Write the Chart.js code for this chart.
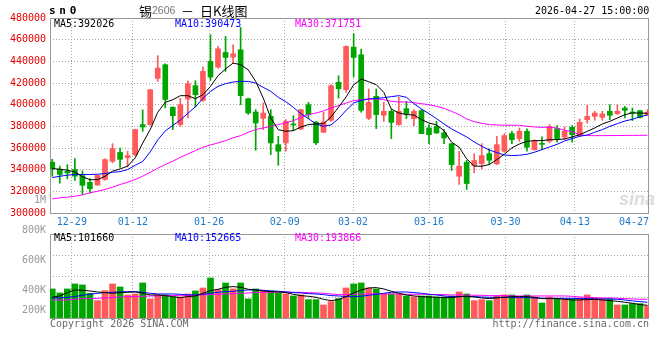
<!DOCTYPE html>
<html><head><meta charset="utf-8">
<script src="https://cdn.jsdelivr.net/npm/chart.js@4.4.1/dist/chart.umd.min.js"></script>
<style>
html,body{margin:0;padding:0;background:#fff;}
#wrap{position:relative;width:660px;height:360px;overflow:hidden;background:#fff;font-family:'DejaVu Sans Mono',monospace;}
canvas{position:absolute;left:0;}
.t{position:absolute;font-size:10px;line-height:12px;white-space:nowrap;font-family:'DejaVu Sans Mono',monospace;}
.cjk{position:absolute;font-family:'Noto Sans CJK SC',sans-serif;font-size:13px;line-height:14px;white-space:nowrap;color:#000;}
</style></head><body>
<div id="wrap">
<div class="t" style="left:619px;top:189px;font:italic bold 18px 'Liberation Sans',sans-serif;color:#dddddd;">sina</div>
<canvas id="pc" width="660" height="232" style="top:0;width:660px;height:232px"></canvas>
<canvas id="vc" width="660" height="170" style="top:190px;width:660px;height:170px"></canvas>
<div class="t" style="left:49px;top:5px;font-weight:bold;font-size:11px;letter-spacing:3.7px;color:#000">sn0</div>
<div class="cjk" style="left:139px;top:4px">锡</div>
<div class="t" style="left:152px;top:4px;font-family:'Liberation Sans',sans-serif;font-size:10.5px;color:#777">2606</div>
<div class="cjk" style="left:181px;top:4px">－</div>
<div class="cjk" style="left:200px;top:4px">日K线图</div>
<div class="t" style="left:535px;top:5px;color:#000">2026-04-27 15:00:00</div>
<div class="t" style="left:54px;top:18px;color:#000">MA5:392026</div>
<div class="t" style="left:175px;top:18px;color:#0000ff">MA10:390473</div>
<div class="t" style="left:295px;top:18px;color:#ff00ff">MA30:371751</div>
<div class="t" style="left:54px;top:232px;color:#000">MA5:101660</div>
<div class="t" style="left:175px;top:232px;color:#0000ff">MA10:152665</div>
<div class="t" style="left:295px;top:232px;color:#ff00ff">MA30:193866</div>
<div class="t" style="left:50px;top:318px;color:#6a6a6a">Copyright 2026 SINA.COM</div>
<div class="t" style="right:11px;top:318px;color:#6a6a6a">http://finance.sina.com.cn</div>
</div>
<script>
const dates = ['12-24','12-25','12-26','12-29','12-30','12-31',
 '01-05','01-06','01-07','01-08','01-09','01-12','01-13','01-14','01-15','01-16',
 '01-19','01-20','01-21','01-22','01-23','01-26','01-27','01-28','01-29','01-30',
 '02-02','02-03','02-04','02-05','02-06','02-09','02-10','02-11','02-12','02-13',
 '02-24','02-25','02-26','02-27',
 '03-02','03-03','03-04','03-05','03-06','03-09','03-10','03-11','03-12','03-13',
 '03-16','03-17','03-18','03-19','03-20','03-23','03-24','03-25','03-26','03-27','03-30','03-31',
 '04-01','04-02','04-03','04-07','04-08','04-09','04-10','04-13','04-14','04-15','04-16','04-17',
 '04-20','04-21','04-22','04-23','04-24','04-27'];

const openP = [346900,340400,338500,340100,334500,328300,325800,331000,347700,355900,
 351000,353900,381600,381600,424300,436900,397600,381600,405200,417500,
 404000,439900,434700,448200,443900,450700,405500,393200,387400,389300,
 363100,364700,382000,377600,400000,384000,374500,385600,420600,413800,
 453100,446100,387400,407700,390200,393850,381600,396300,387100,394500,
 378500,380000,373900,364000,333900,346900,343800,345600,354800,345300,
 357000,373300,368700,375400,358500,364000,366200,377900,370200,379100,
 371400,386200,389200,388300,393850,391700,396900,392900,394500,390800];
const highP = [349600,343200,344700,350200,339000,331800,335000,350000,364000,360000,
 357000,377500,395200,414200,445200,437800,398000,406000,422100,422100,
 434700,464500,453800,463000,455300,471300,406000,395400,401500,395400,
 370800,386200,389900,395700,402100,384300,392900,418400,426700,454400,
 465400,451300,414400,414400,402100,395400,406800,403100,395400,395400,
 381600,384600,377000,364000,357000,348700,354800,364000,359100,370800,
 373300,375400,378500,377600,367700,370200,381600,380600,379400,380600,
 386800,399400,393850,393850,400000,400000,398500,396900,394500,395400];
const lowP = [333900,327500,331500,330000,317000,318600,325500,330200,346300,342000,
 342500,353000,375400,381000,421500,397000,377000,380000,387700,397800,
 403000,422400,433800,430700,438400,400000,391000,357900,377000,353900,
 344100,357000,376000,377000,387100,363100,374500,384600,406100,411400,
 425500,393000,386200,377900,384600,368700,381000,387100,380600,373300,
 364000,373300,364000,339200,326300,321700,337000,340700,344700,344700,
 356100,364000,366200,357000,357900,358500,364700,365300,367700,365300,
 370800,383100,385600,385600,386200,390800,387700,385300,387700,389900];
const closeP = [340700,335500,337000,334000,325600,322400,334700,349300,359400,349500,
 353000,377000,379400,413800,433800,404800,389800,400000,419350,409200,
 430700,425500,451600,443600,447000,408300,392300,383100,392300,364700,
 357000,384600,381200,395400,390800,364700,384000,417500,414700,453800,
 443600,394800,402100,390800,393850,383700,393850,391700,393850,373300,
 372300,373900,369300,344700,343200,327200,348400,353000,348700,363100,
 371400,367700,375400,360700,366200,363400,380000,368700,375400,372300,
 383700,389200,392300,391400,390200,393850,394800,392300,388300,392900];

const ma5 = [341000,340400,339500,337900,333500,330700,330800,333900,338600,340700,
 343200,350800,364500,377000,393000,402100,404600,408300,408300,405500,
 409200,416900,426700,432900,438400,436900,432200,421500,406100,387700,
 376900,375400,376000,379400,381600,382200,382500,388600,397800,407100,
 418400,423600,421200,418400,411400,396000,392300,390800,390500,386200,
 383100,381300,376000,365300,360700,350000,343200,343200,344700,349300,
 354200,360100,363700,366200,366800,366800,367700,367700,368400,370200,
 372300,375400,378500,382200,384600,387700,390800,392300,392300,392026];
const ma10 = [332700,333900,334900,335500,335500,335500,335800,336400,337600,338200,
 340100,344000,347500,356400,367500,375800,380800,385800,392000,398000,
 405800,412300,416900,419350,420900,421500,421500,419950,415970,412300,
 406750,402760,397500,391700,387100,382200,380000,381300,387100,394800,
 401500,404000,405200,405800,406400,407400,408300,406800,400900,396000,
 391700,387100,382200,377600,373900,370200,365600,361600,358200,355800,
 353600,353000,353300,354200,356100,358500,361000,363400,366500,368700,
 370800,372000,374500,376960,380000,382500,384900,386500,388800,390473];
const ma30 = [313000,314000,314600,315500,316700,318600,320100,321700,323800,326300,
 328400,330900,334000,337600,341300,344700,347800,351500,354500,357600,
 360700,362800,364700,366800,369500,371400,374500,377000,378500,380000,
 381600,383100,385200,388300,390800,392300,394200,396900,399100,401500,
 403700,404600,405200,405200,404600,403100,402500,402500,401800,400900,
 400000,398500,396600,393850,390800,386800,384300,382800,381600,381300,
 381000,381000,381000,380000,379400,379100,379100,378500,376300,375100,
 372300,371500,371400,371400,371500,371500,371600,371600,371700,371751];

const vol = [406700,380000,406700,440000,433300,377800,328900,395600,440000,420000,
 366700,373300,446700,340000,366700,366700,353300,353300,373300,393300,
 413300,480000,402200,446700,406700,446700,340000,406700,393300,393300,
 380000,373300,360000,366700,335600,335600,300000,322200,342200,413300,
 440000,446700,413300,406700,373300,373300,373300,360000,353300,360000,
 360000,353300,353300,360000,386700,373300,328900,335600,328900,360000,
 366700,366700,353300,366700,353300,313300,353300,340000,340000,340000,
 346700,366700,346700,340000,340000,300000,300000,308900,308900,293300];
const vma5 = [351100,360000,382200,400000,397800,393300,386700,382200,377800,382200,
 384400,386700,377800,366700,366700,362200,355600,348900,355600,360000,
 377800,395600,404400,417800,422200,417800,404400,400000,393300,388900,
 386700,382200,371100,362200,357800,351100,337800,328900,335600,355600,
 380000,400000,413300,415600,406700,391100,377800,366700,360000,355600,
 353300,351100,348900,348900,355600,357800,353300,346700,342200,346700,
 351100,355600,355600,355600,351100,342200,342200,342200,337800,333300,
 333300,335600,337800,333300,328900,324400,317800,311100,302200,297800];
const vma10 = [346700,346700,351100,355600,364400,371100,377800,382200,384400,386700,
 388900,388900,384400,377800,373300,373300,373300,371100,366700,366700,
 371100,377800,384400,388900,391100,395600,400000,400000,397800,393300,
 391100,386700,382200,380000,375600,373300,368900,362200,360000,355600,
 355600,357800,364400,371100,377800,384400,386700,386700,382200,377800,
 371100,366700,360000,355600,355600,355600,355600,353300,351100,351100,
 351100,348900,348900,348900,346700,344400,344400,344400,344400,344400,
 342200,342200,340000,340000,340000,337800,333300,326700,322200,317800];
const vma30 = [333300,333300,333300,337800,342200,342200,344400,346700,348900,353300,
 355600,355600,357800,360000,360000,362200,362200,364400,364400,364400,
 366700,368900,371100,373300,375600,377800,380000,382200,384400,384400,
 386700,386700,384400,384400,382200,380000,377800,373300,368900,368900,
 371100,373300,373300,373300,373300,373300,373300,371100,371100,371100,
 371100,368900,368900,366700,366700,366700,364400,364400,362200,362200,
 362200,360000,360000,360000,360000,360000,360000,360000,360000,357800,
 353300,351100,348900,346700,346700,344400,342200,340000,337800,337800];

const tickPos = [2.6, 10.7, 20.82, 30.85, 39.92, 50.01, 60.16, 69.36, 77.2];
const tickLabels = ['12-29','01-12','01-26','02-09','03-02','03-16','03-30','04-13','04-27'];
const priceMin = 300000, priceMax = 480000, priceStep = 20000;
const volMin = 213000, volMax = 773000, volGridStep = 140000;
const volTicks = [1000000, 800000, 600000, 400000, 200000];
const volTickLabels = ['1M','800K','600K','400K','200K'];

const UP = '#ff5a5a', DOWN = '#00a500', GRID = '#a8a8a8', FRAME = '#999999';
const FONT = {family:"'DejaVu Sans Mono', monospace", size:10};
const colors = openP.map((o,i) => closeP[i] >= o ? UP : DOWN);
const pts = arr => arr.map((v,i) => ({x:i, y:v}));

const frame = {id:'frame', beforeDatasetsDraw(chart){
  const {ctx, chartArea:a} = chart;
  ctx.save(); ctx.strokeStyle = FRAME; ctx.lineWidth = 1;
  ctx.strokeRect(Math.round(a.left)+0.5, Math.round(a.top)+0.5, Math.round(a.right-a.left)-1, Math.round(a.bottom-a.top));
  ctx.restore();
}};

function xScale(showLabels){
  return {
    type:'linear', min:-0.3, max:79.2, offset:false,
    afterBuildTicks: s => { s.ticks = tickPos.map(v => ({value:v})); },
    afterFit: s => { s.height = showLabels ? 19 : 0; },
    ticks:{display:showLabels, autoSkip:false, maxRotation:0, minRotation:0, color:'#1f78c8', font:FONT, padding:3,
      callback:(v,i) => tickLabels[i]},
    grid:{offset:false, drawTicks:false, color: c => c.index === tickPos.length-1 ? 'rgba(0,0,0,0)' : GRID},
    border:{display:false, dash:[1,2]}
  };
}
const line = (data, color) => ({type:'line', data:pts(data), borderColor:color, borderWidth:1, pointRadius:0, tension:0, order:0});

new Chart(document.getElementById('pc'), {
  type:'bar',
  data:{datasets:[
    line(ma5,'#000000'), line(ma10,'#0000ff'), line(ma30,'#ff00ff'),
    {data: openP.map((o,i) => ({x:i, y:[o, closeP[i]]})), backgroundColor:colors, barThickness:5, minBarLength:1, grouped:false, order:1},
    {data: lowP.map((l,i) => ({x:i, y:[l, highP[i]]})), backgroundColor:colors, barThickness:1, grouped:false, order:2}
  ]},
  options:{
    responsive:false, animation:false, devicePixelRatio:1,
    layout:{padding:{left:0, right:11, top:18, bottom:0}},
    plugins:{legend:{display:false}, tooltip:{enabled:false}},
    scales:{
      x: xScale(true),
      y:{min:priceMin, max:priceMax, afterFit: s => { s.width = 50; },
        ticks:{stepSize:priceStep, color:'#e60000', font:FONT, padding:4, callback: v => String(v)},
        grid:{drawTicks:false, color:GRID}, border:{display:false, dash:[1,2]}}
    }
  },
  plugins:[frame]
});

const volLabels = {id:'volLabels', afterDraw(chart){
  const {ctx, chartArea:a, scales} = chart;
  ctx.save(); ctx.font = "10px 'DejaVu Sans Mono', monospace"; ctx.fillStyle = '#999999';
  ctx.textAlign = 'right'; ctx.textBaseline = 'middle';
  volTicks.forEach((v,i) => {
    const y = Math.min(scales.y.getPixelForValue(v), a.bottom - 8);
    ctx.fillText(volTickLabels[i], a.left - 4, y);
  });
  ctx.restore();
}};

new Chart(document.getElementById('vc'), {
  type:'bar',
  data:{datasets:[
    line(vma5,'#000000'), line(vma10,'#0000ff'), line(vma30,'#ff00ff'),
    {data: pts(vol), backgroundColor:colors, barThickness:6, grouped:false, clip:0, order:1}
  ]},
  options:{
    responsive:false, animation:false, devicePixelRatio:1,
    layout:{padding:{left:0, right:11, top:44, bottom:42}},
    plugins:{legend:{display:false}, tooltip:{enabled:false}},
    scales:{
      x: xScale(false),
      y:{min:volMin, max:volMax, afterFit: s => { s.width = 50; },
        afterBuildTicks: s => { const t=[]; for (let v=volMin; v<=volMax; v+=volGridStep) t.push({value:v}); s.ticks = t; },
        ticks:{display:false}, grid:{drawTicks:false, color:GRID}, border:{display:false, dash:[1,2]}}
    }
  },
  plugins:[frame, volLabels]
});
</script>
</body></html>
